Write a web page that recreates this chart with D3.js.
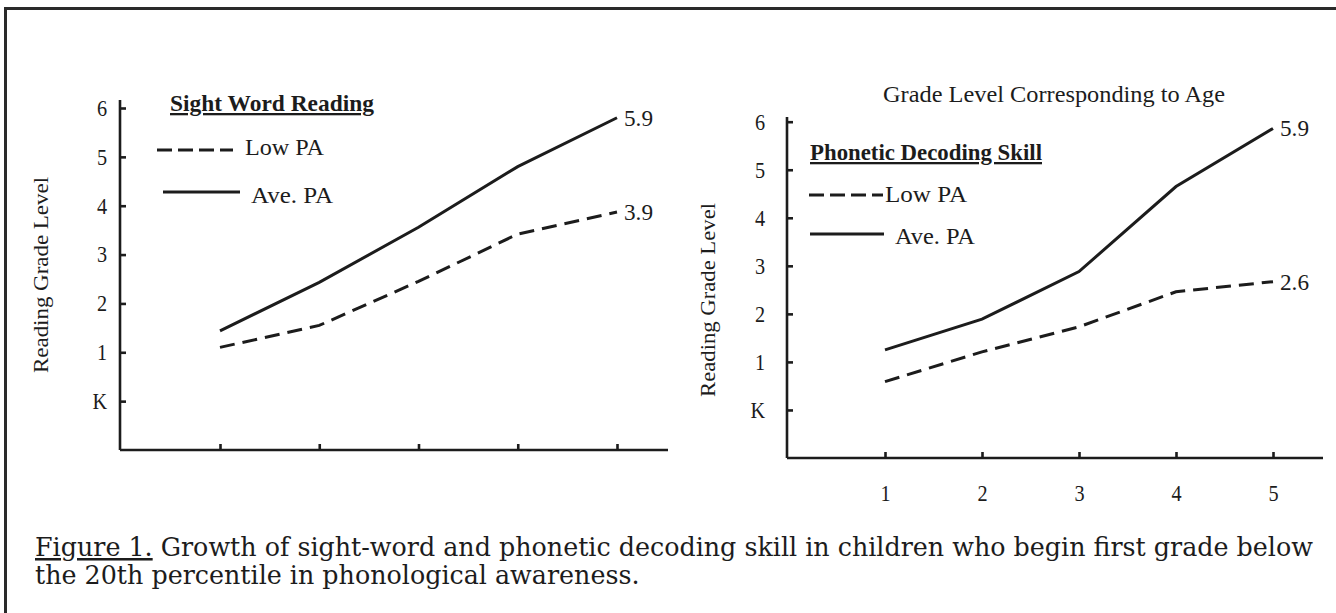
<!DOCTYPE html>
<meta charset="utf-8">
<script src="https://d3js.org/d3.v7.min.js"></script>
<style>
  body { margin: 0; background: #fff; }
  text { fill: #1c1c1c; }
</style>
<div id="my_dataviz"></div>
<script>

// grades on the x axis, reading grade levels (K = 0)
var grades = [1, 2, 3, 4, 5];
var yTicks = [0, 1, 2, 3, 4, 5, 6];
var yTickLabels = ["K", "1", "2", "3", "4", "5", "6"];

// Sight word reading
var sightLow = [1.1, 1.55, 2.45, 3.42, 3.87];
var sightAve = [1.44, 2.43, 3.56, 4.8, 5.8];
var sightEndLabels = ["3.9", "5.9"];

// Phonetic decoding skill
var phonLow = [0.59, 1.21, 1.73, 2.46, 2.67];
var phonAve = [1.25, 1.89, 2.88, 4.65, 5.86];
var phonEndLabels = ["2.6", "5.9"];

var captionLines = [
  "Growth of sight-word and phonetic decoding skill in children who begin first grade below",
  "the 20th percentile in phonological awareness."
];

var ink = "#1c1c1c";
var chartFont = "'Liberation Serif', 'Times New Roman', serif";

var svg = d3.select("#my_dataviz")
  .append("svg")
    .attr("width", 1336)
    .attr("height", 613);

// outer frame (top and left edges visible)
svg.append("path")
  .attr("d", "M5.5,613 V8.5 H1336")
  .attr("fill", "none")
  .attr("stroke", "#2a2a2a")
  .attr("stroke-width", 3);

// condensed serif text: font size sets the height, textLength the width
function label(parent, x, y, str, size, width, bold) {
  var t = parent.append("text")
    .attr("x", x)
    .attr("y", y)
    .style("font-family", chartFont)
    .style("font-size", size + "px")
    .text(str);
  if (width) t.attr("textLength", width).attr("lengthAdjust", "spacingAndGlyphs");
  if (bold) t.style("font-weight", "bold").style("text-decoration", "underline");
  return t;
}

function drawChart(o) {
  var g = svg.append("g");

  var x = d3.scaleLinear().domain([1, 5]).range([o.x1, o.x5]);
  var y = d3.scaleLinear().domain([-1, 6]).range([o.bottom, o.y6]);

  // y axis
  var yAxis = g.append("g")
    .attr("transform", "translate(" + o.left + ",0)")
    .call(d3.axisLeft(y)
      .tickValues(yTicks)
      .tickFormat(function (d, i) { return yTickLabels[i]; })
      .tickSizeInner(-6)
      .tickSizeOuter(0)
      .tickPadding(o.yPad));
  yAxis.select(".domain").attr("d", "M0," + o.top + "V" + o.bottom);

  // x axis
  var xAxis = g.append("g")
    .attr("transform", "translate(0," + o.bottom + ")")
    .call(d3.axisBottom(x)
      .tickValues(grades)
      .tickFormat(o.xLabels ? d3.format("d") : function () { return ""; })
      .tickSizeInner(-6)
      .tickSizeOuter(0)
      .tickPadding(27));
  xAxis.select(".domain").attr("d", "M" + o.left + ",0H" + o.right);

  g.selectAll(".domain, .tick line")
    .attr("stroke", ink)
    .attr("stroke-width", 2.6);
  g.selectAll(".tick text")
    .attr("fill", ink)
    .style("font-family", chartFont)
    .style("font-size", "23px")
    .attr("transform", "scale(0.88,1)");
  yAxis.selectAll(".tick text").attr("x", -o.yPad / 0.88);

  // y axis title
  label(g, 0, 0, "Reading Grade Level", 22, o.yTitleLen)
    .attr("transform", "translate(" + o.yTitleX + "," + o.yTitleY + ") rotate(-90)")
    .attr("text-anchor", "middle")
    .attr("dy", "0.35em");

  var line = d3.line()
    .x(function (d, i) { return x(grades[i]); })
    .y(function (d) { return y(d); });

  g.append("path")
    .datum(o.low)
    .attr("d", line)
    .attr("fill", "none")
    .attr("stroke", ink)
    .attr("stroke-width", 3)
    .attr("stroke-dasharray", "15,8");

  g.append("path")
    .datum(o.ave)
    .attr("d", line)
    .attr("fill", "none")
    .attr("stroke", ink)
    .attr("stroke-width", 3);

  // end value labels
  [o.low, o.ave].forEach(function (s, k) {
    label(g, x(5) + 7, y(s[4]), o.endLabels[k], 23, 29)
      .attr("dy", "0.35em");
  });

  // legend title (bold underlined)
  label(g, o.legTitle[0], o.legTitle[1], o.legTitleText, 23, o.legTitle[2], true);

  // legend entries
  o.legend.forEach(function (e) {
    g.append("line")
      .attr("x1", e.x1).attr("x2", e.x2)
      .attr("y1", e.ly).attr("y2", e.ly)
      .attr("stroke", ink)
      .attr("stroke-width", 3)
      .attr("stroke-dasharray", e.dash ? "15,6" : null);
    label(g, e.tx, e.ty, e.label, 24, e.tw);
  });

  return g;
}

drawChart({
  left: 120, right: 668, top: 100, bottom: 450, y6: 108,
  x1: 220, x5: 617, yPad: 13, xLabels: false,
  yTitleX: 40, yTitleY: 275, yTitleLen: 196,
  low: sightLow, ave: sightAve, endLabels: sightEndLabels,
  legTitle: [170, 111, 204], legTitleText: "Sight Word Reading",
  legend: [
    {x1: 157, x2: 233, ly: 150, tx: 245, ty: 155, tw: 79, dash: true, label: "Low PA"},
    {x1: 163, x2: 240, ly: 192, tx: 251, ty: 203, tw: 82, dash: false, label: "Ave. PA"}
  ]
});

var right = drawChart({
  left: 787, right: 1323, top: 117, bottom: 458, y6: 121.7,
  x1: 885, x5: 1273, yPad: 22, xLabels: true,
  yTitleX: 707, yTitleY: 300, yTitleLen: 194,
  low: phonLow, ave: phonAve, endLabels: phonEndLabels,
  legTitle: [810, 160, 232], legTitleText: "Phonetic Decoding Skill",
  legend: [
    {x1: 809, x2: 883, ly: 195, tx: 885, ty: 202, tw: 82, dash: true, label: "Low PA"},
    {x1: 810, x2: 884, ly: 234, tx: 895, ty: 244, tw: 80, dash: false, label: "Ave. PA"}
  ]
});

label(right, 883, 102, "Grade Level Corresponding to Age", 23, 342);

// caption
var cap = svg.append("text")
  .attr("x", 35)
  .attr("y", 556)
  .style("font-family", "'DejaVu Serif', serif")
  .style("font-size", "20px");
cap.append("tspan")
  .style("text-decoration", "underline")
  .text("Figure 1.");
cap.append("tspan")
  .text(" " + captionLines[0]);

var cap2 = svg.append("text")
  .attr("x", 35)
  .attr("y", 584)
  .style("font-family", "'DejaVu Serif', serif")
  .style("font-size", "20px")
  .text(captionLines[1]);

// fit caption first line to the page width
var w = cap.node().getComputedTextLength();
var fs = 20 * 1278 / w;
cap.style("font-size", fs + "px");
cap2.style("font-size", fs + "px");

</script>
